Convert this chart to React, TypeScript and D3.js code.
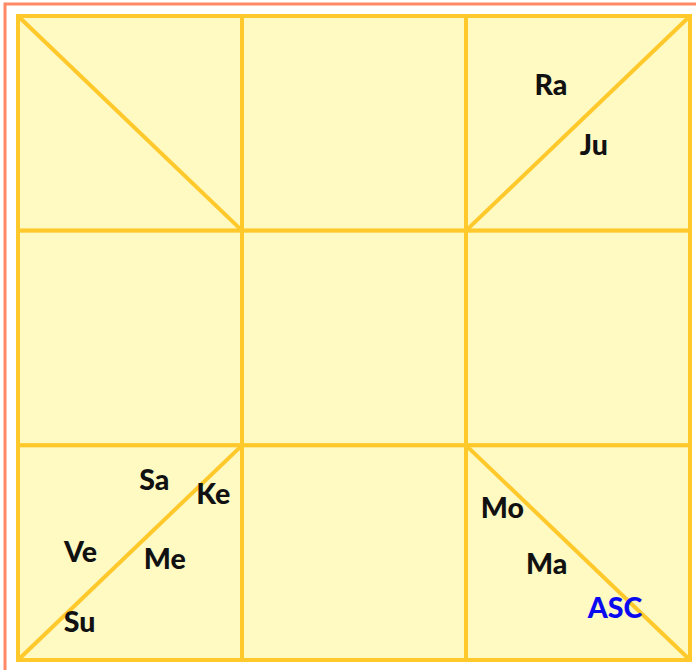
import { useEffect, useRef } from "react";
import * as d3 from "d3";

// ─── Data ─────────────────────────────────────────────────────────────────────

// 3×3 chart grid, columns / rows
const COLS = [0, 1, 2];
const ROWS = [0, 1, 2];

// diagonals: cell + direction ("down" = top-left → bottom-right)
const DIAG_COL = [0, 2, 0, 2];
const DIAG_ROW = [0, 0, 2, 2];
const DIAG_DIR = ["down", "up", "up", "down"];

// bodies placed in the chart, with the cell and the spot inside it (0..1)
const BODIES = ["Ra", "Ju", "Sa", "Ke", "Ve", "Me", "Su", "Mo", "Ma", "ASC"];
const BODY_COL = [2, 2, 0, 0, 0, 0, 0, 2, 2, 2];
const BODY_ROW = [0, 0, 2, 2, 2, 2, 2, 2, 2, 2];
const BODY_U = [0.379, 0.571, 0.608, 0.872, 0.279, 0.655, 0.275, 0.162, 0.36, 0.665];
const BODY_V = [0.318, 0.596, 0.155, 0.22, 0.492, 0.526, 0.82, 0.286, 0.55, 0.752];

// ─── Palette ──────────────────────────────────────────────────────────────────

const FILL = "#FFF9C2";
const GOLD = "#FFC92C";
const SALMON = "#FF8A65";
const INK = "#111111";
const BLUE = "#0A0AF0";
const FONT = "Lato, 'Open Sans', sans-serif";

export default function App() {
  const svgRef = useRef<SVGSVGElement>(null);

  useEffect(() => {
    if (!svgRef.current) return;
    const W = 696,
      H = 670;
    const box = { x0: 18, y0: 16, x1: 690, y1: 660 };

    const svg = d3.select(svgRef.current);
    svg.selectAll("*").remove();

    // outer salmon frame (runs off the right / bottom of the page)
    svg
      .append("rect")
      .attr("x", 5)
      .attr("y", 4)
      .attr("width", W + 40)
      .attr("height", H + 40)
      .attr("fill", "#fff")
      .attr("stroke", SALMON)
      .attr("stroke-width", 3);

    const x = d3.scaleLinear().domain([0, 3]).range([box.x0, box.x1]);
    const y = d3.scaleLinear().domain([0, 3]).range([box.y0, box.y1]);

    // cells
    const cells = COLS.flatMap((c) => ROWS.map((r) => ({ c, r })));
    svg
      .append("g")
      .selectAll("rect")
      .data(cells)
      .enter()
      .append("rect")
      .attr("x", (d) => x(d.c))
      .attr("y", (d) => y(d.r))
      .attr("width", x(1) - x(0))
      .attr("height", y(1) - y(0))
      .attr("fill", FILL)
      .attr("stroke", GOLD)
      .attr("stroke-width", 4);

    // diagonals
    const diags = DIAG_COL.map((c, i) => ({ c, r: DIAG_ROW[i], dir: DIAG_DIR[i] }));
    svg
      .append("g")
      .selectAll("line")
      .data(diags)
      .enter()
      .append("line")
      .attr("x1", (d) => x(d.c))
      .attr("x2", (d) => x(d.c + 1))
      .attr("y1", (d) => (d.dir === "down" ? y(d.r) : y(d.r + 1)))
      .attr("y2", (d) => (d.dir === "down" ? y(d.r + 1) : y(d.r)))
      .attr("stroke", GOLD)
      .attr("stroke-width", 4);

    // labels
    const labels = BODIES.map((name, i) => ({
      name,
      cx: x(BODY_COL[i] + BODY_U[i]),
      cy: y(BODY_ROW[i] + BODY_V[i]),
    }));
    svg
      .append("g")
      .selectAll("text")
      .data(labels)
      .enter()
      .append("text")
      .attr("x", (d) => d.cx)
      .attr("y", (d) => d.cy)
      .attr("text-anchor", "middle")
      .attr("dominant-baseline", "central")
      .attr("font-family", FONT)
      .attr("font-weight", 900)
      .attr("font-size", 28.5)
      .attr("fill", (d) => (d.name === "ASC" ? BLUE : INK))
      .text((d) => d.name);
  }, []);

  return (
    <svg
      ref={svgRef}
      width={696}
      height={670}
      viewBox="0 0 696 670"
      style={{ position: "absolute", left: 0, top: 0, display: "block", background: "#fff" }}
    />
  );
}
